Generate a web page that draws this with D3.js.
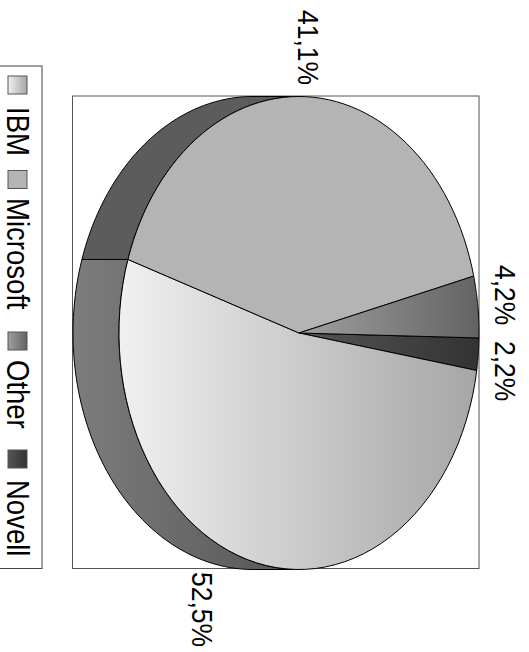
<!DOCTYPE html>
<html>
<head>
<meta charset="utf-8">
<script src="https://cdn.jsdelivr.net/npm/d3@7"></script>
<style>
body { margin: 0; background: #fff; }
text { font-family: "Liberation Sans", Arial, sans-serif; fill: #000; }
</style>
</head>
<body>
<svg></svg>
<script>
// pie order starts at the right hand side of the picture and goes clockwise
var categories = ["Novell", "IBM", "Microsoft", "Other"];
var shares = [2.2, 52.5, 41.1, 4.2];
var shareLabels = ["2,2%", "52,5%", "41,1%", "4,2%"];
var legendOrder = ["IBM", "Microsoft", "Other", "Novell"];

var svgWidth = 529, svgHeight = 652;
var cx = 299, cy = 333, rx = 180, ry = 236.5, depth = 46;
var startOffset = 1.2 * Math.PI / 180;
var legendFont = 27.5, labelFont = 26.5, glyphStretch = 1.13;

// [from, to] colours of each slice, left to right
var topColors = {
    IBM: ["#f0f0f0", "#a6a6a6"],
    Microsoft: ["#b4b4b4", "#b4b4b4"],
    Other: ["#a0a0a0", "#636363"],
    Novell: ["#555555", "#333333"]
};
var sideColors = { IBM: ["#7d7d7d", "#555555"], Microsoft: ["#5c5c5c", "#5c5c5c"] };

// label anchors and legend slots, same order as the arrays they go with
var labelPos = [[495, 341], [192, 572], [298, 10], [495, 265]];
var legendSwatchY = [76, 170.5, 332, 450];
var legendTextY = [107, 198, 360, 480];

var svg = d3.select("svg")
    .attr("width", svgWidth)
    .attr("height", svgHeight)
    .style("display", "block");

var defs = svg.append("defs");
function addGradient(id, c) {
    var g = defs.append("linearGradient").attr("id", id);
    g.append("stop").attr("offset", "0%").attr("stop-color", c[0]);
    g.append("stop").attr("offset", "100%").attr("stop-color", c[1]);
}
categories.forEach(function(c) { addGradient("top" + c, topColors[c]); });
Object.keys(sideColors).forEach(function(c) { addGradient("side" + c, sideColors[c]); });

var xScale = d3.scaleLinear().domain([-1, 1]).range([cx - rx, cx + rx]);
var yScale = d3.scaleLinear().domain([-1, 1]).range([cy - ry, cy + ry]);

var line = d3.line()
    .x(function(d) { return xScale(Math.cos(d.a)) - (d.back ? depth : 0); })
    .y(function(d) { return yScale(Math.sin(d.a)); });

function sweep(a0, a1, back) {
    var n = 60, pts = [];
    for (var i = 0; i <= n; i++) pts.push({ a: a0 + (a1 - a0) * i / n, back: back });
    return pts;
}

var pie = d3.pie().sort(null)
    .startAngle(startOffset)
    .endAngle(startOffset + 2 * Math.PI)
    .value(function(d) { return d; });
var slices = pie(shares);

// frame
svg.append("rect")
    .attr("x", 72.5).attr("y", 96)
    .attr("width", 406.5).attr("height", 472.5)
    .attr("fill", "#fff").attr("stroke", "#555");

// side wall, only the left half of the pie shows it
var sideParts = slices.map(function(s, i) {
    return {
        name: categories[i],
        a0: Math.max(s.startAngle, Math.PI / 2),
        a1: Math.min(s.endAngle, 3 * Math.PI / 2)
    };
}).filter(function(d) { return d.a1 > d.a0 && sideColors[d.name]; });

svg.selectAll("path.side")
    .data(sideParts)
    .enter()
    .append("path")
    .attr("class", "side")
    .attr("d", function(d) {
        return line(sweep(d.a0, d.a1, false).concat(sweep(d.a1, d.a0, true))) + "Z";
    })
    .attr("fill", function(d) { return "url(#side" + d.name + ")"; })
    .attr("stroke", "#000");

// top of the pie
svg.selectAll("path.top")
    .data(slices)
    .enter()
    .append("path")
    .attr("class", "top")
    .attr("d", function(d) {
        return "M" + cx + "," + cy + "L" + line(sweep(d.startAngle, d.endAngle, false)).slice(1) + "Z";
    })
    .attr("fill", function(d, i) { return "url(#top" + categories[i] + ")"; })
    .attr("stroke", "#000");

// percent labels, all text on the page is turned 90 degrees
svg.selectAll("text.share")
    .data(shareLabels)
    .enter()
    .append("text")
    .attr("class", "share")
    .attr("transform", function(d, i) {
        return "translate(" + labelPos[i] + ") rotate(90) scale(1," + glyphStretch + ")";
    })
    .attr("font-size", labelFont)
    .text(function(d) { return d; });

// legend
svg.append("rect")
    .attr("x", -1).attr("y", 66)
    .attr("width", 43).attr("height", 502.5)
    .attr("fill", "#fff").attr("stroke", "#444");

svg.selectAll("rect.swatch")
    .data(legendOrder)
    .enter()
    .append("rect")
    .attr("class", "swatch")
    .attr("x", 8).attr("y", function(d, i) { return legendSwatchY[i]; })
    .attr("width", 19).attr("height", 18)
    .attr("fill", function(d) { return "url(#top" + d + ")"; })
    .attr("stroke", "#555");

svg.selectAll("text.legend")
    .data(legendOrder)
    .enter()
    .append("text")
    .attr("class", "legend")
    .attr("transform", function(d, i) {
        return "translate(7," + legendTextY[i] + ") rotate(90) scale(1," + glyphStretch + ")";
    })
    .attr("font-size", legendFont)
    .text(function(d) { return d; });
</script>
</body>
</html>
